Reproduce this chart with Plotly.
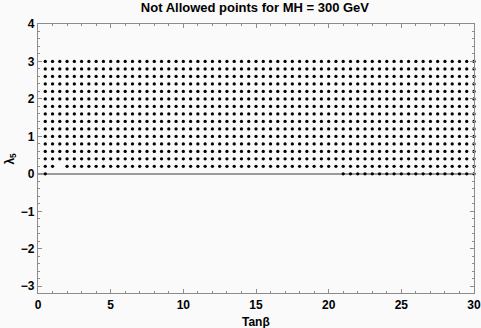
import plotly.graph_objects as go

# Scan grid
tanb_grid = [0.5, 1.0, 1.5, 2.0, 2.5, 3.0, 3.5, 4.0, 4.5, 5.0,
             5.5, 6.0, 6.5, 7.0, 7.5, 8.0, 8.5, 9.0, 9.5, 10.0,
             10.5, 11.0, 11.5, 12.0, 12.5, 13.0, 13.5, 14.0, 14.5, 15.0,
             15.5, 16.0, 16.5, 17.0, 17.5, 18.0, 18.5, 19.0, 19.5, 20.0,
             20.5, 21.0, 21.5, 22.0, 22.5, 23.0, 23.5, 24.0, 24.5, 25.0,
             25.5, 26.0, 26.5, 27.0, 27.5, 28.0, 28.5, 29.0, 29.5, 30.0]
lambda5_rows = [0.2, 0.4, 0.6, 0.8, 1.0, 1.2, 1.4, 1.6, 1.8, 2.0,
                2.2, 2.4, 2.6, 2.8, 3.0]
# points at lambda5 = 0
tanb_at_zero = [0.5, 21.0, 21.5, 22.0, 22.5, 23.0, 23.5, 24.0, 24.5, 25.0,
                25.5, 26.0, 26.5, 27.0, 27.5, 28.0, 28.5, 29.0, 29.5, 30.0]
# allowed (missing) points inside the grid
missing_points = [(1.5, 0.2)]

xs, ys = [], []
for t in tanb_at_zero:
    xs.append(t)
    ys.append(0.0)
for l in lambda5_rows:
    for t in tanb_grid:
        if (t, l) in missing_points:
            continue
        xs.append(t)
        ys.append(l)

x_ticks = [0, 5, 10, 15, 20, 25, 30]
y_ticks = [-3, -2, -1, 0, 1, 2, 3, 4]

fig = go.Figure()
fig.add_trace(go.Scatter(
    x=xs, y=ys, mode="markers",
    marker=dict(color="black", size=3.3, line=dict(width=0)),
    showlegend=False, hoverinfo="skip", cliponaxis=False))

font = dict(family="Liberation Sans, Arial, sans-serif", color="black")
axis_common = dict(
    showgrid=False, showline=True, linecolor="#8c8c8c", linewidth=1.2,
    mirror="allticks", ticks="inside", tickcolor="#8c8c8c", ticklen=4,
    tickwidth=1, tickfont=dict(size=12, **font), automargin=False,
)

fig.update_layout(
    width=481, height=328,
    margin=dict(l=38, r=7, t=24, b=35),
    paper_bgcolor="#fafafa", plot_bgcolor="#fafafa",
    title=dict(text="<b>Not Allowed points for MH = 300 GeV</b>",
               x=0.53, xanchor="center", y=0.99, yanchor="top",
               font=dict(size=13, **font)),
    xaxis=dict(range=[0, 30], tickvals=x_ticks,
               ticktext=[f"<b>{v}</b>" for v in x_ticks],
               zeroline=False,
               minor=dict(ticks="inside", dtick=1, ticklen=2, tickcolor="#8c8c8c"),
               **axis_common),
    yaxis=dict(range=[-3.18, 4], tickvals=y_ticks,
               ticktext=[f"<b>{'−' + str(-v) if v < 0 else v}</b>" for v in y_ticks],
               zeroline=True, zerolinecolor="#9a9a9a", zerolinewidth=1.5,
               minor=dict(ticks="inside", dtick=0.2, ticklen=2, tickcolor="#8c8c8c"),
               **axis_common),
    annotations=[
        dict(text="<b>Tanβ</b>", xref="paper", yref="paper", x=0.5, y=-0.108,
             xanchor="center", yanchor="middle", showarrow=False,
             font=dict(size=12, **font)),
        dict(text="<b>λ<sub>5</sub></b>", xref="paper", yref="paper", x=-0.064, y=0.5,
             xanchor="center", yanchor="middle", showarrow=False, textangle=-90,
             font=dict(size=12, **font)),
    ],
)

fig.write_html("out.html", config={"displayModeBar": False},
               post_script="document.body.style.margin='0';document.body.style.background='#fafafa';")
